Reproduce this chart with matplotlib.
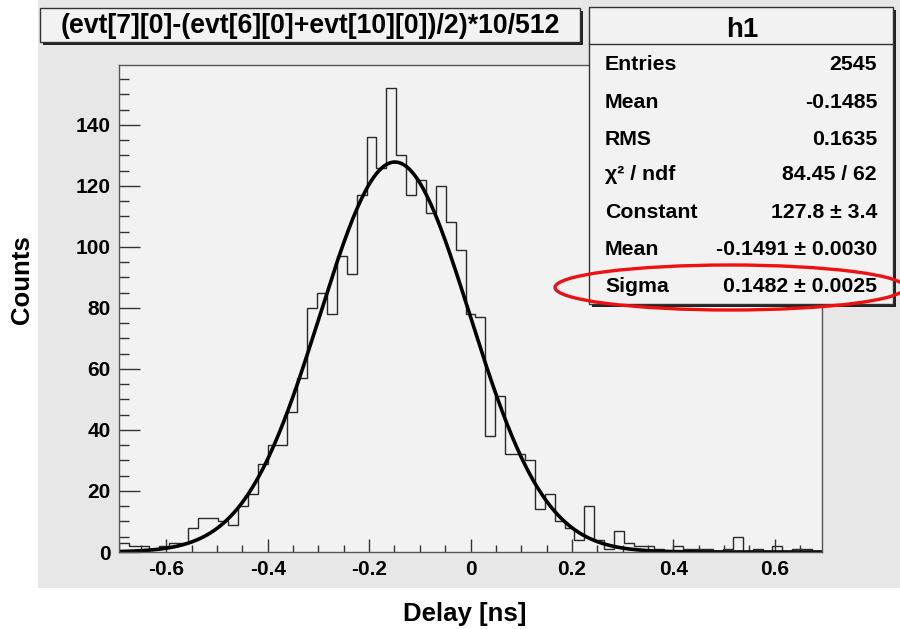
import numpy as np
import matplotlib
matplotlib.use("Agg")
import matplotlib.pyplot as plt
from matplotlib.patches import Rectangle, Ellipse
from matplotlib.lines import Line2D

# ---------------- data ----------------
counts = [3, 2, 2, 1, 2, 3, 3, 8, 11, 11,
          10, 9, 15, 19, 29, 35, 35, 46, 57, 80,
          85, 78, 97, 91, 117, 136, 126, 152, 130, 117,
          122, 111, 120, 108, 99, 78, 77, 38, 51, 32,
          32, 30, 14, 19, 10, 8, 4, 15, 4, 1,
          7, 3, 2, 2, 1, 0, 2, 1, 1, 1,
          0, 1, 5, 0, 1, 0, 2, 0, 1, 1, 0]
bin_width = 10.0 / 512.0
n_bins = len(counts)

fit_constant = 127.8
fit_mean = -0.1491
fit_sigma = 0.1482

xticks = [-0.6, -0.4, -0.2, 0.0, 0.2, 0.4, 0.6]
xtick_labels = ["-0.6", "-0.4", "-0.2", "0", "0.2", "0.4", "0.6"]
yticks = [0, 20, 40, 60, 80, 100, 120, 140]

title_text = "(evt[7][0]-(evt[6][0]+evt[10][0])/2)*10/512"
stats_name = "h1"
stats_labels = ["Entries", "Mean", "RMS", "χ² / ndf", "Constant", "Mean", "Sigma"]
stats_values = ["2545", "-0.1485", "0.1635", "84.45 / 62",
                "127.8 ± 3.4", "-0.1491 ± 0.0030", "0.1482 ± 0.0025"]
xlabel = "Delay [ns]"
ylabel = "Counts"

# ---------------- style ----------------
plt.rcParams["font.family"] = ["Liberation Sans", "DejaVu Sans"]
plt.rcParams["font.weight"] = "bold"

W, H = 900, 629
fig = plt.figure(figsize=(W / 100, H / 100), dpi=100)
fig.patch.set_facecolor("white")

def fx(px):
    return px / W

def fy(py):
    return 1 - py / H

pad_col = "#e7e7e7"
frame_col = "#f2f2f2"

# canvas pad (gray region)
fig.patches.append(Rectangle((fx(38), fy(588)), fx(900) - fx(38), fy(0) - fy(588),
                             transform=fig.transFigure, facecolor=pad_col,
                             edgecolor="none", zorder=-10))

ax_l, ax_r, ax_t, ax_b = 119, 822, 65, 552
ax = fig.add_axes([fx(ax_l), fy(ax_b), fx(ax_r) - fx(ax_l), fy(ax_t) - fy(ax_b)])
ax.set_facecolor(frame_col)

edges = (np.arange(n_bins + 1) - n_bins / 2.0) * bin_width
ax.stairs(counts, edges, color="#2a2a2a", linewidth=1.0)

xf = np.linspace(edges[0], edges[-1], 600)
yf = fit_constant * np.exp(-0.5 * ((xf - fit_mean) / fit_sigma) ** 2)
ax.plot(xf, yf, color="black", linewidth=2.6, solid_capstyle="round")

ax.set_xlim(edges[0], edges[-1])
ax.set_ylim(0, 1.05 * max(counts))

ax.set_xticks(xticks)
ax.set_xticklabels(xtick_labels)
ax.set_xticks(np.arange(-0.65, 0.70, 0.05), minor=True)
ax.set_yticks(yticks)
ax.set_yticks(np.arange(0, 160, 5), minor=True)

for s in ax.spines.values():
    s.set_color("#555555")
    s.set_linewidth(1.0)

ax.tick_params(axis="x", which="major", direction="in", length=9.5, width=1,
               color="#333333", labelsize=15, pad=6)
ax.tick_params(axis="x", which="minor", direction="in", length=5, width=1, color="#333333")
ax.tick_params(axis="y", which="major", direction="in", length=15, width=1,
               color="#333333", labelsize=15, pad=6)
ax.tick_params(axis="y", which="minor", direction="in", length=7.5, width=1, color="#333333")
for lab in ax.get_xticklabels() + ax.get_yticklabels():
    lab.set_fontweight("bold")

# axis titles (on figure)
fig.text(fx(465), fy(614), xlabel, ha="center", va="center", fontsize=18.5, fontweight="bold")
fig.text(fx(22), fy(280), ylabel, ha="center", va="center", rotation=90,
         fontsize=18.5, fontweight="bold")

# ---------------- title box ----------------
tb_l, tb_r, tb_t, tb_b = 40, 580, 8, 42
sh = 3
fig.patches.append(Rectangle((fx(tb_l + sh), fy(tb_b + sh)), fx(tb_r - tb_l), fy(tb_t) - fy(tb_b),
                             transform=fig.transFigure, facecolor="#222222",
                             edgecolor="none", zorder=4))
fig.patches.append(Rectangle((fx(tb_l), fy(tb_b)), fx(tb_r - tb_l), fy(tb_t) - fy(tb_b),
                             transform=fig.transFigure, facecolor=frame_col,
                             edgecolor="#333333", linewidth=1, zorder=5))
fig.text(fx((tb_l + tb_r) / 2), fy((tb_t + tb_b) / 2 + 1), title_text, ha="center", va="center",
         fontsize=19.2, fontweight="bold", zorder=6)

# ---------------- stats box ----------------
sb_l, sb_r, sb_t, sb_b = 589, 893, 7, 304
fig.patches.append(Rectangle((fx(sb_l + sh), fy(sb_b + sh)), fx(sb_r - sb_l), fy(sb_t) - fy(sb_b),
                             transform=fig.transFigure, facecolor="#222222",
                             edgecolor="none", zorder=4))
fig.patches.append(Rectangle((fx(sb_l), fy(sb_b)), fx(sb_r - sb_l), fy(sb_t) - fy(sb_b),
                             transform=fig.transFigure, facecolor=frame_col,
                             edgecolor="#333333", linewidth=1, zorder=5))
fig.lines.append(Line2D([fx(sb_l), fx(sb_r)], [fy(44.3), fy(44.3)], transform=fig.transFigure,
                        color="#333333", linewidth=1, zorder=6))
fig.text(fx(742), fy(30), stats_name, ha="center", va="center", fontsize=20,
         fontweight="bold", zorder=6)
row_y = [65, 102.5, 139.3, 175, 212.7, 250, 287]
for lab, val, yy in zip(stats_labels, stats_values, row_y):
    fig.text(fx(605), fy(yy), lab, ha="left", va="center", fontsize=15.3,
             fontweight="bold", zorder=6)
    fig.text(fx(877), fy(yy), val, ha="right", va="center", fontsize=15.3,
             fontweight="bold", zorder=6)

# ---------------- red ellipse ----------------
fig.patches.append(Ellipse((fx(730), fy(287.5)), fx(350), 45 / H, transform=fig.transFigure,
                           facecolor="none", edgecolor="#ee1111", linewidth=2.4, zorder=8))

fig.savefig("out.png", dpi=100)
